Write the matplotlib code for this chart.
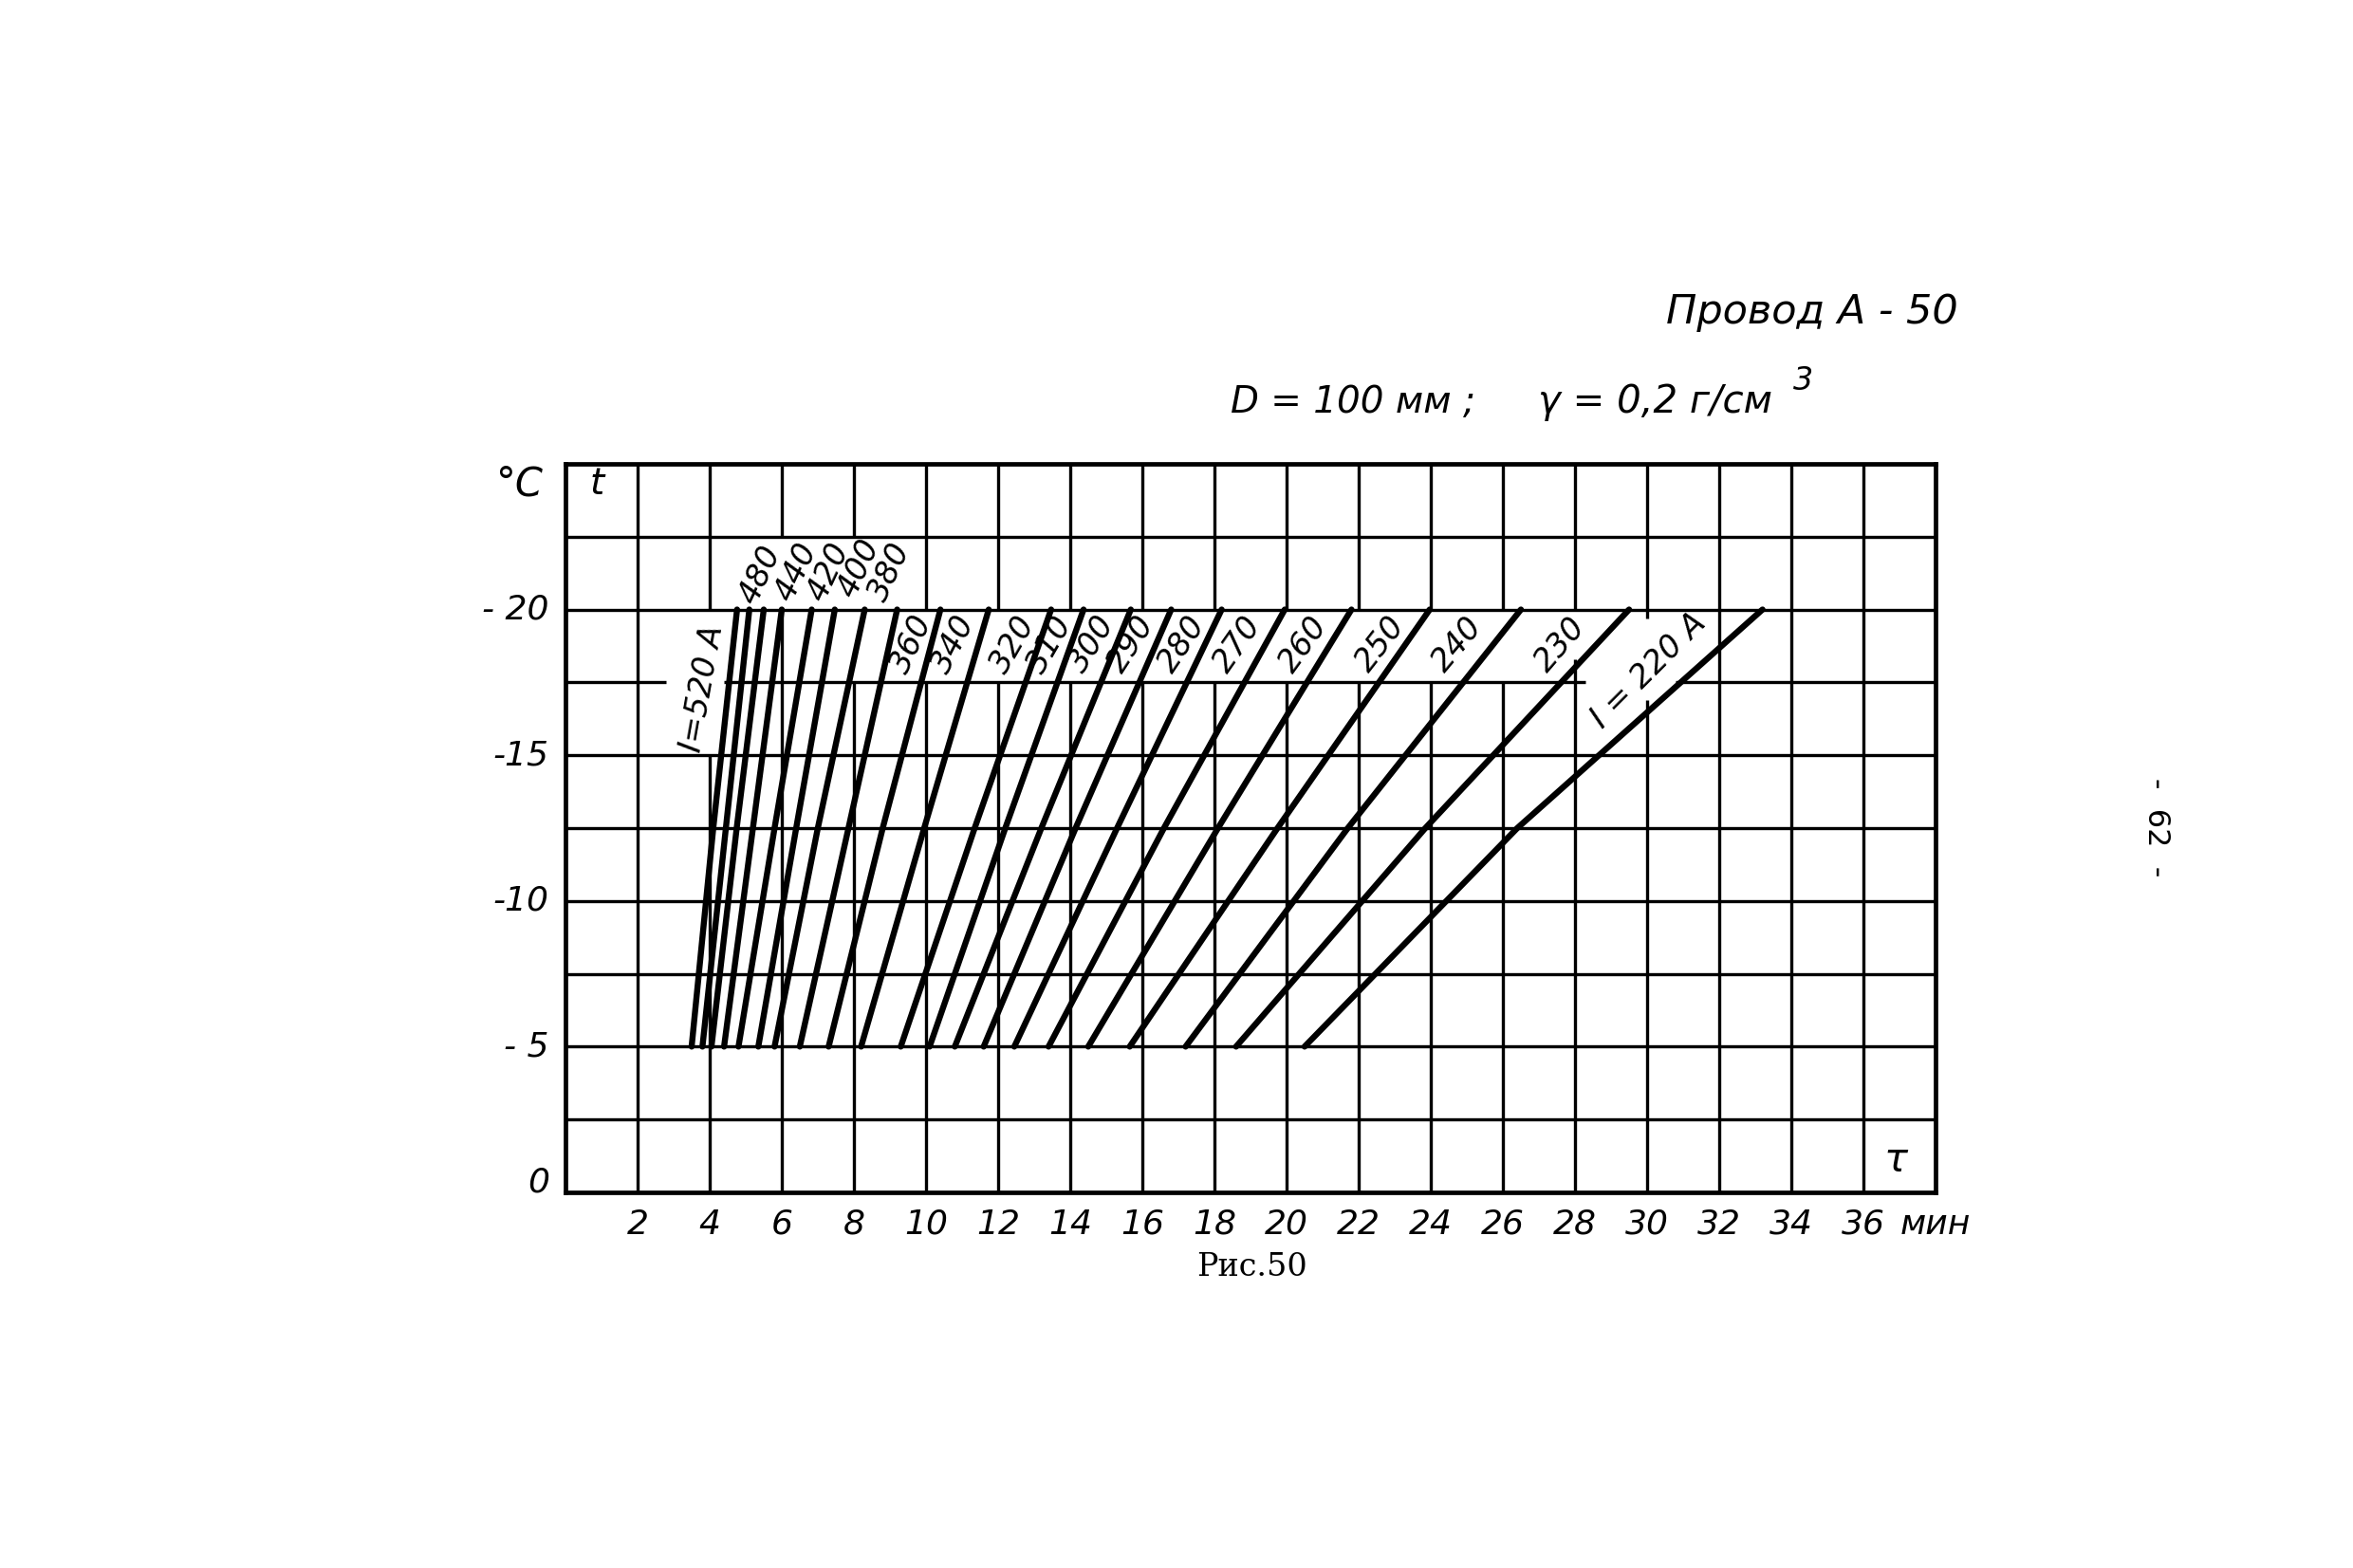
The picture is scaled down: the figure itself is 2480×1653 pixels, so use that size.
import matplotlib
matplotlib.use('Agg')
import matplotlib.pyplot as plt
import numpy as np

# Провод А-50: time to cool (min) vs temperature, one line per current
currents = [520, 500, 480, 460, 440, 420, 400, 380, 360, 340, 320,
            310, 300, 290, 280, 270, 260, 250, 240, 230, 220]
t_levels = [-5, -12.5, -20]   # °C where the time values were read
tau_m5 = [3.5, 3.8, 4.05, 4.4, 4.8, 5.35, 5.8, 6.5, 7.3, 8.2, 9.3,
          10.1, 10.8, 11.6, 12.45, 13.4, 14.5, 15.65, 17.2, 18.6, 20.5]
tau_m12 = [4.1, 4.45, 4.75, 5.2, 5.8, 6.4, 7.0, 7.85, 8.8, 9.95, 11.35,
           12.2, 13.2, 14.15, 15.3, 16.6, 18.1, 19.75, 21.7, 23.85, 26.4]
tau_m20 = [4.76, 5.1, 5.5, 6.0, 6.83, 7.47, 8.3, 9.2, 10.4, 11.74, 13.47,
           14.37, 15.68, 16.8, 18.2, 19.95, 21.8, 23.97, 26.5, 29.5, 33.2]

x_ticks = list(range(2, 37, 2))
x_ticklabels = [str(v) for v in x_ticks] + ['мин']
y_ticks = [0, -5, -10, -15, -20]
y_ticklabels = ['0', '- 5', '-10', '-15', '- 20']

# label text, position (tau, t), rotation  -- layout only
curve_labels = [
    ('I=520 A', 3.8, -17.3, 80),
    ('480', 5.4, -21.2, 65), ('440', 6.4, -21.3, 65), ('420', 7.3, -21.3, 65),
    ('400', 8.15, -21.4, 65), ('380', 9.0, -21.3, 65),
    ('360', 9.6, -18.8, 65), ('340', 10.75, -18.8, 63), ('320', 12.4, -18.8, 60),
    ('310', 13.45, -18.8, 60), ('300', 14.6, -18.8, 58), ('290', 15.7, -18.8, 57),
    ('280', 17.1, -18.8, 56), ('270', 18.64, -18.8, 55), ('260', 20.48, -18.8, 54),
    ('250', 22.6, -18.8, 52), ('240', 24.73, -18.8, 50), ('230', 27.6, -18.8, 49),
    ('I = 220 A', 30.05, -17.9, 45),
]

hand = dict(family='DejaVu Sans', style='italic')
ink = 'black'

fig = plt.figure(figsize=(24.8, 16.53), dpi=100, facecolor='white')
ax = fig.add_axes([0.2403, 0.2396, 0.5823, 0.4646])
ax.set_xlim(0, 38)
ax.set_ylim(0, -25)

#hand-drawn grid, with gaps where the labels sit
grid_lw = 2.4
v_segs = {2: [(0, -25)], 4: [(0, -15), (-20, -25)], 6: [(0, -20), (-22.5, -25)],
          8: [(0, -17.5), (-22.5, -25)], 28: [(0, -18.3), (-20, -25)],
          30: [(0, -16.9), (-19.7, -25)], 32: [(0, -25)], 34: [(0, -25)], 36: [(0, -25)]}
for x in range(10, 27, 2):
    v_segs[x] = [(0, -17.5), (-20, -25)]
for x, segs in v_segs.items():
    for a, b in segs:
        ax.plot([x, x], [a, b], color=ink, lw=grid_lw, solid_capstyle='butt')
for t in [-2.5, -5, -7.5, -10, -12.5, -15, -20, -22.5]:
    ax.plot([0, 38], [t, t], color=ink, lw=grid_lw, solid_capstyle='butt')
for a, b in [(0, 2.8), (4.4, 28.3), (30.8, 38)]:
    ax.plot([a, b], [-17.5, -17.5], color=ink, lw=grid_lw, solid_capstyle='butt')

#curves
for i in range(len(currents)):
    ax.plot([tau_m5[i], tau_m12[i], tau_m20[i]], t_levels, color=ink, lw=4.6,
            solid_capstyle='round', solid_joinstyle='round')

for txt, x, t, rot in curve_labels:
    ax.text(x, t, txt, rotation=rot, ha='center', va='center', fontsize=24,
            color=ink, rotation_mode='anchor', **hand)

#axes frame and labels
for s in ax.spines.values():
    s.set_linewidth(3.4)
ax.set_xticks(x_ticks + [38])
ax.set_xticklabels(x_ticklabels, fontsize=26, **hand)
ax.set_yticks([])
ax.tick_params(axis='x', length=0, pad=12)
for v, lab in zip(y_ticks, y_ticklabels):
    ax.text(-0.45, v - (0.35 if v == 0 else 0), lab, ha='right', va='center',
            fontsize=26, clip_on=False, **hand)
ax.text(-1.3, -24.3, '°C', ha='center', va='center', fontsize=30, clip_on=False, **hand)
ax.text(0.87, -24.3, 't', ha='center', va='center', fontsize=28, **hand)
ax.text(36.9, -1.1, 'τ', ha='center', va='center', fontsize=30, **hand)

fig.text(0.832, 0.801, 'Провод А - 50', ha='right', va='center', fontsize=31, **hand)
fig.text(0.523, 0.7435, 'D = 100 мм ;', ha='left', va='center', fontsize=28, **hand)
fig.text(0.6537, 0.7435, 'γ = 0,2 г/см', ha='left', va='center', fontsize=29, **hand)
fig.text(0.762, 0.757, '3', ha='left', va='center', fontsize=24, **hand)
fig.text(0.532, 0.192, 'Рис.50', ha='center', va='center', fontsize=24,
         family='DejaVu Serif')
fig.text(0.9165, 0.4725, '-  62  -', rotation=-90, ha='center', va='center',
         fontsize=23, family='DejaVu Sans')

fig.savefig('out.png', dpi=100, facecolor='white')
